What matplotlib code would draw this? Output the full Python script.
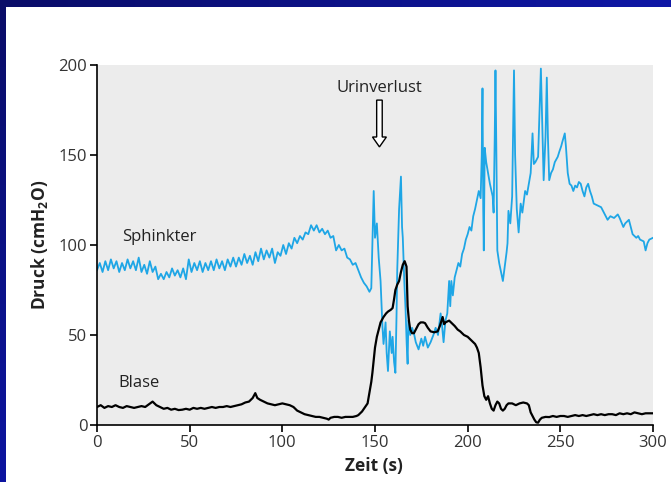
import numpy as np
import matplotlib
matplotlib.use("Agg")
import matplotlib.pyplot as plt
import matplotlib.patches as mpatches
from matplotlib.colors import LinearSegmentedColormap

plt.rcParams['font.family'] = ['Open Sans', 'DejaVu Sans']
plt.rcParams['mathtext.fontset'] = 'custom'
plt.rcParams['mathtext.rm'] = 'Open Sans'
plt.rcParams['mathtext.bf'] = 'Open Sans:bold'

# Sphinkterdruck (cmH2O) ueber Zeit (s)
sph_t = [0, 1.5, 3, 4.5, 6, 7.5, 9, 10.5, 12, 13.5, 15, 16.5, 18, 19.5, 21, 22.5,
         24, 25.5, 27, 28.5, 30, 31.5, 33, 34.5, 36, 37.5, 39, 40.5, 42, 43.5, 45,
         46.5, 48, 49.5, 51, 52.5, 54, 55.5, 57, 58.5, 60, 61.5, 63, 64.5, 66, 67.5,
         69, 70.5, 72, 73.5, 75, 76.5, 78, 79.5, 81, 82.5, 84, 85.5, 87, 88.5, 90,
         91.5, 93, 94.5, 96, 97.5, 99, 100.5, 102, 103.5, 105, 106.5, 108, 109.5,
         111, 112.5, 114, 115.5, 117, 118.5, 120, 121.5, 123, 124.5, 126, 127.5,
         129, 130.5, 132, 133.5, 135, 136.5, 138, 139.5, 141, 142.5, 144, 145.5,
         147, 148, 148.8, 149.3, 150, 151, 152, 153, 154, 154.6, 155.7, 156.3, 157,
         158, 159, 159.5, 160.3, 161, 161.6, 162, 163, 164, 164.6, 165, 165.8,
         166.5, 167.1, 167.6, 168, 169, 170, 171, 172, 173.5, 175, 176, 177, 178.5,
         180, 181.5, 182.7, 184, 185.4, 186.2, 187, 188, 189, 190, 190.6, 191.2,
         192, 193, 194, 195, 196, 197, 198, 199, 200, 201, 202, 203, 204, 205, 206,
         207, 207.6, 208, 208.4, 208.7, 209.2, 210, 211, 212, 213.5, 214, 214.6,
         215, 215.5, 216, 217, 218, 219, 220, 221, 221.5, 222, 223, 224, 224.6,
         225, 225.6, 226.5, 227.5, 228.6, 229.5, 231, 232, 233, 234, 235, 235.7,
         236.5, 238, 238.8, 239.5, 240.2, 241, 242, 242.7, 243.3, 244, 245, 246,
         247, 248.6, 249.5, 250.5, 251, 252.4, 253, 254, 255, 256, 257, 258, 259,
         260, 261, 262, 263, 264, 265, 266, 267, 268, 270, 272, 274, 275.5, 277,
         279, 281, 282, 284, 285, 287, 288, 289, 291, 292, 293, 295, 296, 297, 298,
         300]
sph_v = [86, 90, 85, 91, 86, 92, 87, 91, 85, 90, 86, 92, 87, 91, 86, 93,
         85, 89, 84, 91, 85, 88, 81, 84, 81, 85, 82, 87, 83, 86, 82,
         87, 81, 92, 85, 90, 86, 91, 85, 90, 86, 91, 86, 92, 87, 91,
         86, 92, 88, 93, 88, 93, 89, 95, 90, 94, 89, 96, 91, 98, 92,
         97, 93, 98, 90, 96, 94, 100, 95, 101, 98, 104, 101, 105,
         103, 107, 106, 111, 108, 111, 107, 109, 106, 108, 104, 105,
         97, 100, 97, 98, 93, 92, 89, 90, 86, 82, 79, 77,
         74, 76, 110, 130, 104, 112, 93, 80, 55, 45, 57, 40, 30,
         52, 40, 49, 35, 29, 60, 86, 120, 138, 110, 104, 80,
         64, 45, 34, 58, 50, 54, 51, 46, 42, 48, 44, 49, 43,
         46, 50, 54, 50, 62, 55, 46, 58, 62, 80, 66, 80,
         72, 82, 86, 90, 88, 95, 98, 103, 106, 110, 108, 116, 120, 125, 130,
         126, 150, 187, 120, 97, 154, 146, 140, 134, 127, 118, 160,
         197, 150, 97, 90, 85, 80, 88, 96, 101, 119, 112, 127, 170,
         197, 150, 120, 107, 123, 118, 130, 128, 134, 140, 162, 145,
         146, 149, 175, 198, 170, 136, 160, 193, 160, 136, 140, 142,
         146, 149, 152, 155, 157, 162, 155, 140, 134, 133, 130, 133, 132,
         135, 134, 130, 127, 132, 134, 130, 127, 123, 122, 121, 117, 114, 116,
         115, 117, 115, 110, 112, 114, 110, 106, 104, 105, 103, 102, 97, 101, 103,
         104]

# Blasendruck (cmH2O) ueber Zeit (s)
bl_t = [0, 2, 4, 6, 8, 10, 12, 14, 16, 18, 20, 22, 24, 26, 28, 30, 32, 34, 36,
        38, 40, 42, 44, 46, 48, 50, 52, 54, 56, 58, 60, 62, 64, 66, 68, 70, 72,
        74, 76, 78, 80, 82, 84, 85.4, 86.5, 88, 90, 92, 94, 96, 98, 100, 102,
        104, 106, 108, 110, 112, 114, 116, 118, 120, 122, 124, 125, 126, 128,
        130, 132, 134, 136, 138, 140, 141, 142, 143, 144, 145, 146, 147, 148,
        148.6, 149.3, 150, 151, 152, 153, 154.6, 156, 157, 158.5, 159.5, 160.3,
        161, 162, 163, 164, 165, 166, 167, 167.6, 168.3, 169, 170, 171, 172,
        173.5, 174.6, 176, 177, 178.5, 180, 182, 183.8, 185, 186.5, 187.3, 188,
        190, 191, 193, 194.6, 196, 198, 200, 202, 204, 205, 206, 207, 208, 209,
        210, 211, 212, 213, 214, 215, 216, 217, 218, 219, 220, 221, 222, 224,
        226, 228, 230, 232, 233, 234, 235, 236, 237, 238, 239, 240, 242, 244,
        246, 248, 250, 252, 254, 256, 258, 260, 262, 264, 266, 268, 270, 272,
        274, 276, 278, 280, 282, 284, 286, 288, 290, 292, 294, 296, 298, 300]
bl_v = [10, 11, 9.5, 10.5, 10, 11, 10, 9.5, 10.5, 10, 9.5, 10, 10.5, 10, 11.5,
        13, 11, 10, 9, 9.5, 8.5, 9, 8.3, 8.5, 9, 8.5, 9.5, 9, 9.5, 9, 9.5, 10,
        9.5, 10, 10, 10.5, 10, 10.5, 11, 11.5, 12.5, 13, 15, 17.7, 15, 14, 13,
        12, 11.5, 11, 11.5, 12, 11.5, 11, 10, 8, 7, 6, 5.5, 5, 4.5, 4.5, 4, 3.5,
        3, 4, 4.5, 4.5, 4, 4.5, 4.5, 4.5, 5, 5.5, 6.5, 7.5, 9, 10.5, 12, 18, 24,
        29, 36, 43, 49, 53, 57, 60, 62, 63, 64, 65, 70,
        75, 78, 80, 85, 89, 91, 88, 66, 58, 53, 51, 51, 53,
        56, 57, 57, 56.6, 54, 52, 51.5, 52, 55, 60, 56, 57,
        58, 57, 55, 53, 52, 50, 49, 47, 45, 43, 40, 32, 22, 16,
        14, 16, 12, 9, 8, 11, 13, 12, 9, 8, 9, 11, 12, 12,
        11, 12, 12.5, 12, 11, 7, 5, 3, 1.5, 1.3, 3, 4, 4.5, 4.4,
        5, 4.5, 5, 5, 4.5, 5, 5.5, 5, 5.5, 5, 5.5, 6, 5.5, 6,
        5.5, 6, 6, 5.5, 6.5, 6, 6.5, 6, 7, 6.5, 6, 6.5, 6.5, 6.5]

W, H = 671, 482
fig = plt.figure(figsize=(W / 100, H / 100), dpi=100)
fig.patch.set_facecolor("white")

# blauer Rahmen oben und links (Folienhintergrund)
cm_top = LinearSegmentedColormap.from_list("top", ["#0a0d68", "#0f17a6"])
cm_left = LinearSegmentedColormap.from_list("left", ["#0a0d68", "#0d15a0"])
ax_top = fig.add_axes([0, 1 - 7 / H, 1, 7 / H])
ax_top.imshow(np.linspace(0, 1, 256)[None, :], aspect="auto", cmap=cm_top)
ax_top.axis("off")
ax_left = fig.add_axes([0, 0, 6 / W, 1 - 7 / H])
ax_left.imshow(np.linspace(0, 1, 256)[:, None], aspect="auto", cmap=cm_left)
ax_left.axis("off")

ax = fig.add_axes([97 / W, 57 / H, 556 / W, 360 / H])
ax.set_facecolor("#ececec")
ax.plot(sph_t, sph_v, color="#1ea6e6", lw=1.3)
ax.plot(bl_t, bl_v, color="black", lw=1.6)

ax.set_xlim(0, 300)
ax.set_ylim(0, 200)
ax.set_xticks([0, 50, 100, 150, 200, 250, 300])
ax.set_yticks([0, 50, 100, 150, 200])
for s in ["top", "right"]:
    ax.spines[s].set_visible(False)
for s in ["left", "bottom"]:
    ax.spines[s].set_linewidth(1.2)
    ax.spines[s].set_zorder(5)
ax.tick_params(length=5, width=1.2, labelsize=12, labelcolor="#333333", pad=2)
ax.set_xlabel("Zeit (s)", fontsize=12.5, fontweight="bold", color="#222222")
ax.set_ylabel(r"Druck (cmH$_\mathbf{2}$O)", fontsize=12.5, fontweight="bold",
              color="#222222")
ax.xaxis.set_label_coords(0.498, -0.09)
ax.yaxis.set_label_coords(-0.085, 0.5)

ax.text(13.5, 104.5, "Sphinkter", fontsize=12, color="#222222", va="center")
ax.text(11.4, 23.3, "Blase", fontsize=12, color="#222222", va="center")
ax.text(152.4, 187, "Urinverlust", fontsize=12, color="#222222",
        ha="center", va="center")
arrow = mpatches.FancyArrow(152.4, 180.5, 0, -26, width=3.0, head_width=7.5,
                            head_length=5.5, length_includes_head=True,
                            facecolor="white", edgecolor="black", lw=1.0)
ax.add_patch(arrow)

fig.savefig("out.png", dpi=100)
